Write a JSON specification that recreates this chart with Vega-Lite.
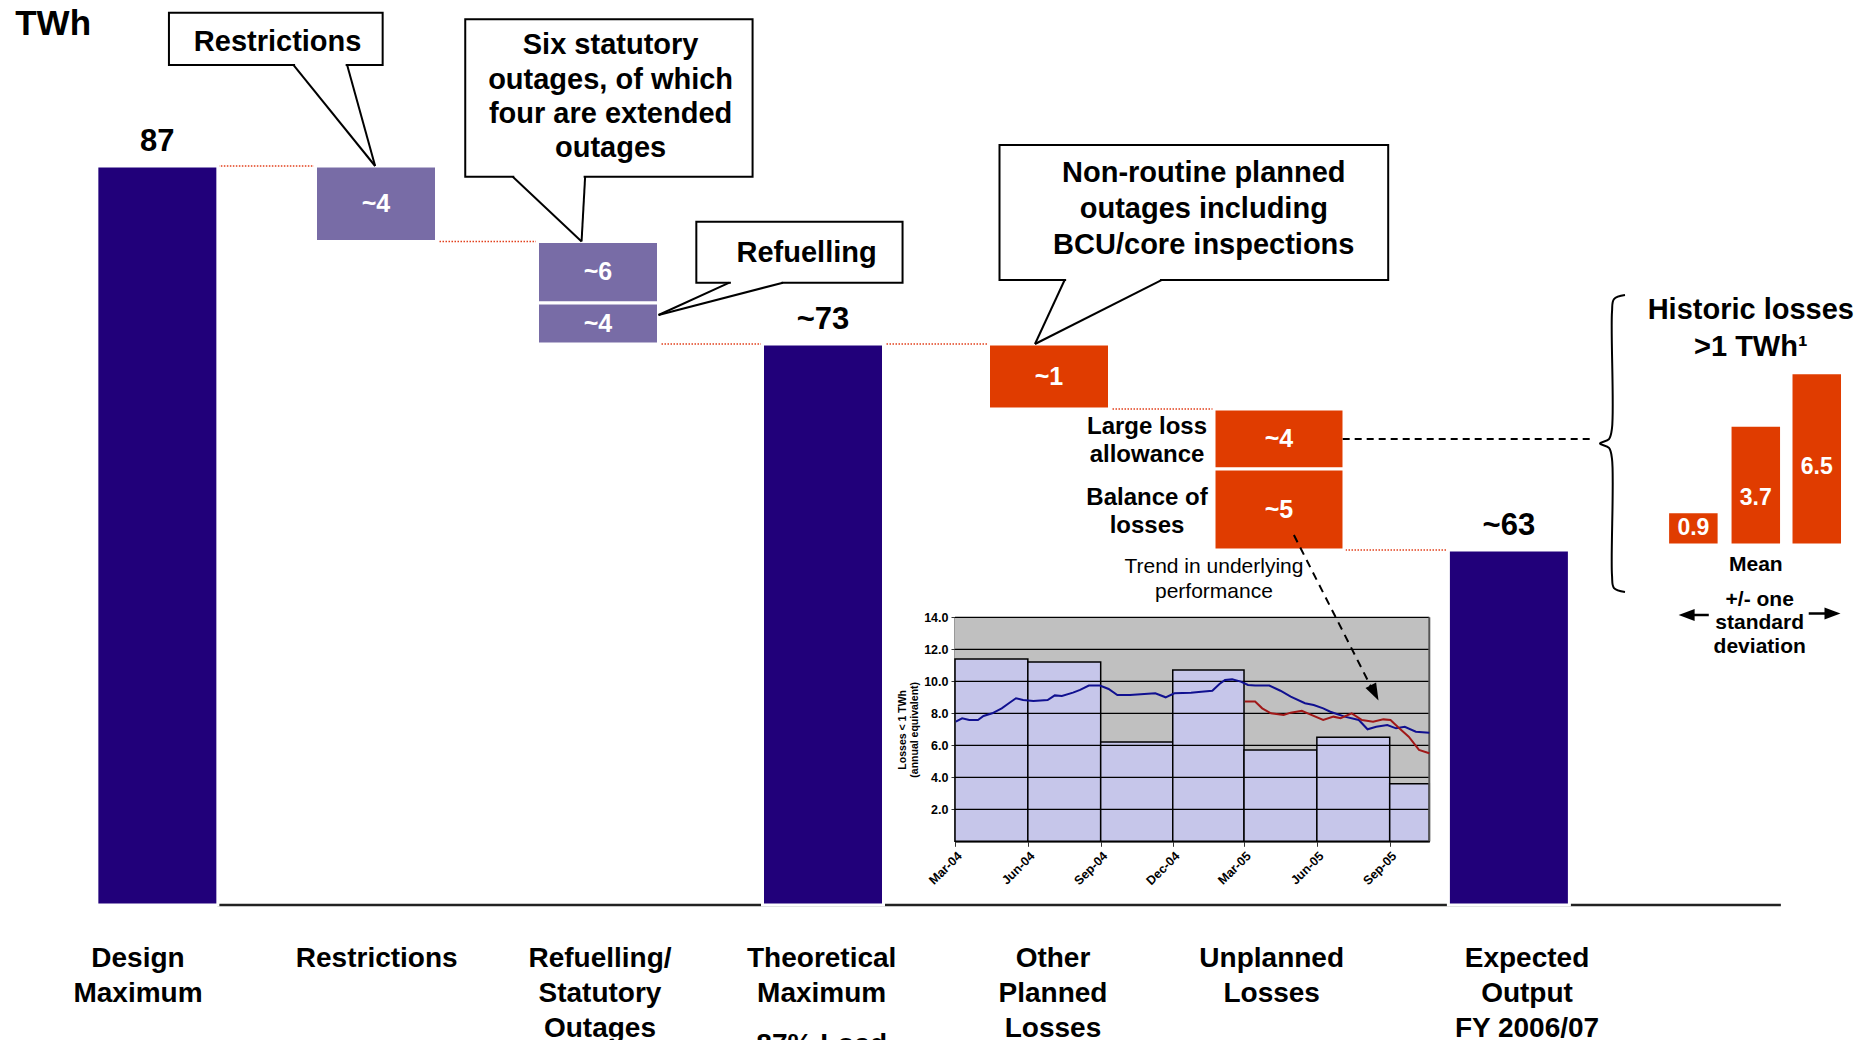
{
  "$schema": "https://vega.github.io/schema/vega-lite/v6.json",
  "width": 1874,
  "height": 1040,
  "autosize": {"type": "none"},
  "padding": 0,
  "background": "white",
  "config": {
    "view": {"stroke": null},
    "font": "Liberation Sans",
    "axis": {"labelFont": "Liberation Sans", "titleFont": "Liberation Sans", "labelColor": "black", "titleColor": "black", "grid": false, "labelFlush": false, "labelOverlap": false, "zindex": 1}
  },
  "datasets": {
    "one": [{}],
    "steps": [
      {"stage": "Design Maximum", "idx": 0, "start": 0, "end": 87, "kind": "total", "label": "87"},
      {"stage": "Restrictions", "idx": 1, "start": 87, "end": 83, "kind": "outage", "label": "~4"},
      {"stage": "Refuelling/Statutory Outages", "idx": 2, "start": 83, "end": 77, "kind": "outage", "label": "~6"},
      {"stage": "Refuelling/Statutory Outages", "idx": 2, "start": 77, "end": 73, "kind": "outage", "label": "~4"},
      {"stage": "Theoretical Maximum", "idx": 3, "start": 0, "end": 73, "kind": "total", "label": "~73"},
      {"stage": "Other Planned Losses", "idx": 4, "start": 73, "end": 72, "kind": "loss", "label": "~1"},
      {"stage": "Unplanned Losses", "idx": 5, "start": 72, "end": 68, "kind": "loss", "label": "~4", "note": "Large loss\nallowance"},
      {"stage": "Unplanned Losses", "idx": 5, "start": 68, "end": 63, "kind": "loss", "label": "~5", "note": "Balance of\nlosses"},
      {"stage": "Expected Output FY 2006/07", "idx": 6, "start": 0, "end": 63, "kind": "total", "label": "~63"}
    ],
    "links": [
      {"level": 87, "from": 0, "to": 1},
      {"level": 83, "from": 1, "to": 2},
      {"level": 73, "from": 2, "to": 3},
      {"level": 73, "from": 3, "to": 4},
      {"level": 72, "from": 4, "to": 5},
      {"level": 63, "from": 5, "to": 6}
    ],
    "stages": [
      {"idx": 0, "name": "Design\nMaximum"},
      {"idx": 1, "name": "Restrictions"},
      {"idx": 2, "name": "Refuelling/\nStatutory\nOutages"},
      {"idx": 3, "name": "Theoretical\nMaximum"},
      {"idx": 4, "name": "Other\nPlanned\nLosses"},
      {"idx": 5, "name": "Unplanned\nLosses"},
      {"idx": 6, "name": "Expected\nOutput\nFY 2006/07"}
    ],
    "quarters": [
      {"from": "2004-03-01", "to": "2004-06-01", "losses": 11.4},
      {"from": "2004-06-01", "to": "2004-09-01", "losses": 11.2},
      {"from": "2004-09-01", "to": "2004-12-01", "losses": 6.2},
      {"from": "2004-12-01", "to": "2005-03-01", "losses": 10.7},
      {"from": "2005-03-01", "to": "2005-06-01", "losses": 5.7},
      {"from": "2005-06-01", "to": "2005-09-01", "losses": 6.5},
      {"from": "2005-09-01", "to": "2005-10-21", "losses": 3.6}
    ],
    "gridlines": [{"v": 2}, {"v": 4}, {"v": 6}, {"v": 8}, {"v": 10}, {"v": 12}, {"v": 14}],
    "trend": [
      {"series": "rolling", "date": "2004-03-02", "value": 7.48},
      {"series": "rolling", "date": "2004-03-10", "value": 7.69},
      {"series": "rolling", "date": "2004-03-19", "value": 7.58},
      {"series": "rolling", "date": "2004-03-30", "value": 7.58},
      {"series": "rolling", "date": "2004-04-06", "value": 7.83},
      {"series": "rolling", "date": "2004-04-17", "value": 8.0},
      {"series": "rolling", "date": "2004-04-29", "value": 8.31},
      {"series": "rolling", "date": "2004-05-08", "value": 8.63},
      {"series": "rolling", "date": "2004-05-17", "value": 8.94},
      {"series": "rolling", "date": "2004-05-26", "value": 8.83},
      {"series": "rolling", "date": "2004-06-08", "value": 8.77},
      {"series": "rolling", "date": "2004-06-26", "value": 8.83},
      {"series": "rolling", "date": "2004-07-05", "value": 9.12},
      {"series": "rolling", "date": "2004-07-14", "value": 9.08},
      {"series": "rolling", "date": "2004-07-28", "value": 9.29},
      {"series": "rolling", "date": "2004-08-06", "value": 9.46},
      {"series": "rolling", "date": "2004-08-17", "value": 9.73},
      {"series": "rolling", "date": "2004-08-31", "value": 9.73},
      {"series": "rolling", "date": "2004-09-11", "value": 9.52},
      {"series": "rolling", "date": "2004-09-22", "value": 9.14},
      {"series": "rolling", "date": "2004-10-08", "value": 9.14},
      {"series": "rolling", "date": "2004-10-26", "value": 9.21},
      {"series": "rolling", "date": "2004-11-09", "value": 9.25},
      {"series": "rolling", "date": "2004-11-22", "value": 9.0},
      {"series": "rolling", "date": "2004-12-03", "value": 9.25},
      {"series": "rolling", "date": "2004-12-24", "value": 9.29},
      {"series": "rolling", "date": "2005-01-06", "value": 9.35},
      {"series": "rolling", "date": "2005-01-20", "value": 9.41},
      {"series": "rolling", "date": "2005-01-29", "value": 9.83},
      {"series": "rolling", "date": "2005-02-05", "value": 10.08},
      {"series": "rolling", "date": "2005-02-14", "value": 10.12},
      {"series": "rolling", "date": "2005-02-25", "value": 9.98},
      {"series": "rolling", "date": "2005-03-06", "value": 9.77},
      {"series": "rolling", "date": "2005-03-15", "value": 9.73},
      {"series": "rolling", "date": "2005-04-02", "value": 9.73},
      {"series": "rolling", "date": "2005-04-16", "value": 9.41},
      {"series": "rolling", "date": "2005-04-29", "value": 9.04},
      {"series": "rolling", "date": "2005-05-17", "value": 8.63},
      {"series": "rolling", "date": "2005-05-28", "value": 8.52},
      {"series": "rolling", "date": "2005-06-09", "value": 8.31},
      {"series": "rolling", "date": "2005-06-18", "value": 8.1},
      {"series": "rolling", "date": "2005-07-06", "value": 7.79},
      {"series": "rolling", "date": "2005-07-24", "value": 7.58},
      {"series": "rolling", "date": "2005-08-04", "value": 7.0},
      {"series": "rolling", "date": "2005-08-15", "value": 7.16},
      {"series": "rolling", "date": "2005-08-29", "value": 7.27},
      {"series": "rolling", "date": "2005-09-09", "value": 7.06},
      {"series": "rolling", "date": "2005-09-20", "value": 7.16},
      {"series": "rolling", "date": "2005-10-04", "value": 6.85},
      {"series": "rolling", "date": "2005-10-21", "value": 6.79},
      {"series": "revised", "date": "2005-03-02", "value": 8.73},
      {"series": "revised", "date": "2005-03-15", "value": 8.73},
      {"series": "revised", "date": "2005-03-24", "value": 8.31},
      {"series": "revised", "date": "2005-04-04", "value": 8.0},
      {"series": "revised", "date": "2005-04-20", "value": 7.89},
      {"series": "revised", "date": "2005-04-29", "value": 8.04},
      {"series": "revised", "date": "2005-05-13", "value": 8.16},
      {"series": "revised", "date": "2005-05-22", "value": 7.96},
      {"series": "revised", "date": "2005-06-09", "value": 7.58},
      {"series": "revised", "date": "2005-06-22", "value": 7.79},
      {"series": "revised", "date": "2005-07-01", "value": 7.69},
      {"series": "revised", "date": "2005-07-15", "value": 8.0},
      {"series": "revised", "date": "2005-07-28", "value": 7.58},
      {"series": "revised", "date": "2005-08-11", "value": 7.48},
      {"series": "revised", "date": "2005-08-24", "value": 7.62},
      {"series": "revised", "date": "2005-09-02", "value": 7.58},
      {"series": "revised", "date": "2005-09-11", "value": 7.16},
      {"series": "revised", "date": "2005-09-25", "value": 6.54},
      {"series": "revised", "date": "2005-10-08", "value": 5.71},
      {"series": "revised", "date": "2005-10-21", "value": 5.5}
    ],
    "historic": [
      {"stat": "Mean - 1 SD", "k": -1, "value": 0.9},
      {"stat": "Mean", "k": 0, "value": 3.7},
      {"stat": "Mean + 1 SD", "k": 1, "value": 6.5}
    ],
    "brace": [
      {"i": 0, "bx": 1, "by": 0},
      {"i": 1, "bx": 0.56, "by": 0.0135},
      {"i": 2, "bx": 0.48, "by": 0.057},
      {"i": 3, "bx": 0.48, "by": 0.448},
      {"i": 4, "bx": 0.36, "by": 0.485},
      {"i": 5, "bx": 0, "by": 0.5},
      {"i": 6, "bx": 0.36, "by": 0.515},
      {"i": 7, "bx": 0.48, "by": 0.552},
      {"i": 8, "bx": 0.48, "by": 0.943},
      {"i": 9, "bx": 0.56, "by": 0.987},
      {"i": 10, "bx": 1, "by": 1}
    ]
  },
  "resolve": {"scale": {"x": "independent", "y": "independent", "color": "independent"}},
  "layer": [
    {
      "layer": [
        {"data": {"name": "one"}, "mark": {"type": "rule", "color": "#222222", "strokeWidth": 2.5, "xOffset": 60},
         "encoding": {
           "x": {"datum": 0, "type": "quantitative", "axis": null, "scale": {"type": "linear", "domain": [0, 1, 2, 3, 4, 5, 6], "range": [152.5, 376, 598, 823, 1049, 1279, 1514], "nice": false, "zero": false}},
           "x2": {"datum": 7.183},
           "y": {"datum": 0, "type": "quantitative", "axis": null, "scale": {"type": "linear", "domain": [0, 63, 68, 72, 73, 77, 83, 87], "range": [905, 550, 469, 409, 344, 303, 241.5, 166], "nice": false, "zero": false}}}},
        {"data": {"name": "links"}, "mark": {"type": "rule", "color": "#e2401c", "strokeWidth": 1.6, "strokeDash": [1.5, 1.5], "xOffset": 60.5, "x2Offset": -60.5},
         "encoding": {"x": {"field": "from", "type": "quantitative", "axis": null}, "x2": {"field": "to"}, "y": {"field": "level", "type": "quantitative", "axis": null}}},
        {"data": {"name": "steps"}, "mark": {"type": "bar", "stroke": "white", "strokeWidth": 3},
         "encoding": {
           "x": {"field": "idx", "type": "quantitative", "axis": null},
           "y": {"field": "start", "type": "quantitative", "axis": null},
           "y2": {"field": "end"},
           "size": {"condition": {"test": "datum.idx === 5", "value": 130}, "value": 121},
           "color": {"field": "kind", "type": "nominal", "legend": null, "scale": {"domain": ["total", "outage", "loss"], "range": ["#21007a", "#786ca6", "#e03c00"]}}}},
        {"data": {"name": "steps"}, "transform": [{"filter": "datum.kind !== 'total'"}, {"calculate": "(datum.start + datum.end) / 2", "as": "mid"}],
         "mark": {"type": "text", "color": "white", "fontSize": 25, "fontWeight": "bold", "baseline": "middle", "align": "center"},
         "encoding": {"x": {"field": "idx", "type": "quantitative", "axis": null}, "y": {"field": "mid", "type": "quantitative", "axis": null}, "text": {"field": "label"}}},
        {"data": {"name": "steps"}, "transform": [{"filter": "datum.kind === 'total'"}],
         "mark": {"type": "text", "color": "black", "fontSize": 31, "fontWeight": "bold", "baseline": "alphabetic", "align": "center", "dy": -15},
         "encoding": {"x": {"field": "idx", "type": "quantitative", "axis": null}, "y": {"field": "end", "type": "quantitative", "axis": null}, "text": {"field": "label"}}},
        {"data": {"name": "steps"}, "transform": [{"filter": "isValid(datum.note)"}, {"calculate": "(datum.start + datum.end) / 2", "as": "mid"}],
         "mark": {"type": "text", "color": "black", "fontSize": 24, "fontWeight": "bold", "lineBreak": "\n", "lineHeight": 28, "baseline": "middle", "align": "center", "dx": -132, "dy": -12},
         "encoding": {"x": {"field": "idx", "type": "quantitative", "axis": null}, "y": {"field": "mid", "type": "quantitative", "axis": null}, "text": {"field": "note"}}},
        {"data": {"name": "one"},
         "mark": {"type": "text", "color": "black", "fontSize": 35, "fontWeight": "bold", "baseline": "alphabetic", "align": "left"},
         "encoding": {"x": {"datum": -0.65, "type": "quantitative", "axis": null}, "y": {"datum": 93.94, "type": "quantitative", "axis": null}, "text": {"value": "TWh"}}},
        {"data": {"name": "one"}, "mark": {"type": "rule", "color": "black", "strokeWidth": 2, "strokeDash": [7, 5]},
         "encoding": {"x": {"datum": 5.277, "type": "quantitative", "axis": null}, "x2": {"datum": 6.366}, "y": {"datum": 70, "type": "quantitative", "axis": null}}},

        {"data": {"name": "one"}, "mark": {"type": "rect", "fill": "white", "stroke": "black", "strokeWidth": 2},
         "encoding": {"x": {"datum": 0.053, "type": "quantitative", "axis": null}, "x2": {"datum": 1.03}, "y": {"datum": 95.12, "type": "quantitative", "axis": null}, "y2": {"datum": 92.35}}},
        {"data": {"name": "one"}, "mark": {"type": "rule", "color": "white", "strokeWidth": 3.5, "xOffset": 1.5, "x2Offset": -1.5},
         "encoding": {"x": {"datum": 0.623, "type": "quantitative", "axis": null}, "x2": {"datum": 0.868}, "y": {"datum": 92.35, "type": "quantitative", "axis": null}}},
        {"data": {"name": "one"}, "mark": {"type": "rule", "color": "black", "strokeWidth": 2},
         "encoding": {"x": {"datum": 0.623, "type": "quantitative", "axis": null}, "x2": {"datum": 0.996}, "y": {"datum": 92.35, "type": "quantitative", "axis": null}, "y2": {"datum": 87}}},
        {"data": {"name": "one"}, "mark": {"type": "rule", "color": "black", "strokeWidth": 2},
         "encoding": {"x": {"datum": 0.868, "type": "quantitative", "axis": null}, "x2": {"datum": 0.996}, "y": {"datum": 92.35, "type": "quantitative", "axis": null}, "y2": {"datum": 87}}},
        {"data": {"name": "one"}, "mark": {"type": "text", "color": "black", "fontSize": 29, "fontWeight": "bold", "baseline": "middle", "align": "center"},
         "encoding": {"x": {"datum": 0.55, "type": "quantitative", "axis": null}, "y": {"datum": 93.59, "type": "quantitative", "axis": null}, "text": {"value": "Restrictions"}}},

        {"data": {"name": "one"}, "mark": {"type": "rect", "fill": "white", "stroke": "black", "strokeWidth": 2},
         "encoding": {"x": {"datum": 1.402, "type": "quantitative", "axis": null}, "x2": {"datum": 2.687}, "y": {"datum": 94.77, "type": "quantitative", "axis": null}, "y2": {"datum": 86.43}}},
        {"data": {"name": "one"}, "mark": {"type": "rule", "color": "white", "strokeWidth": 3.5, "xOffset": 1.5, "x2Offset": -1.5},
         "encoding": {"x": {"datum": 1.616, "type": "quantitative", "axis": null}, "x2": {"datum": 1.942}, "y": {"datum": 86.43, "type": "quantitative", "axis": null}}},
        {"data": {"name": "one"}, "mark": {"type": "rule", "color": "black", "strokeWidth": 2},
         "encoding": {"x": {"datum": 1.616, "type": "quantitative", "axis": null}, "x2": {"datum": 1.926}, "y": {"datum": 86.43, "type": "quantitative", "axis": null}, "y2": {"datum": 83}}},
        {"data": {"name": "one"}, "mark": {"type": "rule", "color": "black", "strokeWidth": 2},
         "encoding": {"x": {"datum": 1.942, "type": "quantitative", "axis": null}, "x2": {"datum": 1.926}, "y": {"datum": 86.43, "type": "quantitative", "axis": null}, "y2": {"datum": 83}}},
        {"data": {"name": "one"}, "mark": {"type": "text", "color": "black", "fontSize": 29, "fontWeight": "bold", "baseline": "middle", "align": "center", "lineHeight": 34.4, "dy": -51.6},
         "encoding": {"x": {"datum": 2.056, "type": "quantitative", "axis": null}, "y": {"datum": 90.67, "type": "quantitative", "axis": null}, "text": {"value": ["Six statutory", "outages, of which", "four are extended", "outages"]}}},

        {"data": {"name": "one"}, "mark": {"type": "rect", "fill": "white", "stroke": "black", "strokeWidth": 2},
         "encoding": {"x": {"datum": 2.437, "type": "quantitative", "axis": null}, "x2": {"datum": 3.352}, "y": {"datum": 84.05, "type": "quantitative", "axis": null}, "y2": {"datum": 78.98}}},
        {"data": {"name": "one"}, "mark": {"type": "rule", "color": "white", "strokeWidth": 3.5, "xOffset": 1.5, "x2Offset": -1.5},
         "encoding": {"x": {"datum": 2.584, "type": "quantitative", "axis": null}, "x2": {"datum": 2.822}, "y": {"datum": 78.98, "type": "quantitative", "axis": null}}},
        {"data": {"name": "one"}, "mark": {"type": "rule", "color": "black", "strokeWidth": 2},
         "encoding": {"x": {"datum": 2.584, "type": "quantitative", "axis": null}, "x2": {"datum": 2.269}, "y": {"datum": 78.98, "type": "quantitative", "axis": null}, "y2": {"datum": 75.83}}},
        {"data": {"name": "one"}, "mark": {"type": "rule", "color": "black", "strokeWidth": 2},
         "encoding": {"x": {"datum": 2.822, "type": "quantitative", "axis": null}, "x2": {"datum": 2.269}, "y": {"datum": 78.98, "type": "quantitative", "axis": null}, "y2": {"datum": 75.83}}},
        {"data": {"name": "one"}, "mark": {"type": "text", "color": "black", "fontSize": 29, "fontWeight": "bold", "baseline": "middle", "align": "center"},
         "encoding": {"x": {"datum": 2.927, "type": "quantitative", "axis": null}, "y": {"datum": 81.84, "type": "quantitative", "axis": null}, "text": {"value": "Refuelling"}}},

        {"data": {"name": "one"}, "mark": {"type": "rect", "fill": "white", "stroke": "black", "strokeWidth": 2},
         "encoding": {"x": {"datum": 3.781, "type": "quantitative", "axis": null}, "x2": {"datum": 5.475}, "y": {"datum": 88.11, "type": "quantitative", "axis": null}, "y2": {"datum": 79.24}}},
        {"data": {"name": "one"}, "mark": {"type": "rule", "color": "white", "strokeWidth": 3.5, "xOffset": 1.5, "x2Offset": -1.5},
         "encoding": {"x": {"datum": 4.068, "type": "quantitative", "axis": null}, "x2": {"datum": 4.489}, "y": {"datum": 79.24, "type": "quantitative", "axis": null}}},
        {"data": {"name": "one"}, "mark": {"type": "rule", "color": "black", "strokeWidth": 2},
         "encoding": {"x": {"datum": 4.068, "type": "quantitative", "axis": null}, "x2": {"datum": 3.938}, "y": {"datum": 79.24, "type": "quantitative", "axis": null}, "y2": {"datum": 73}}},
        {"data": {"name": "one"}, "mark": {"type": "rule", "color": "black", "strokeWidth": 2},
         "encoding": {"x": {"datum": 4.489, "type": "quantitative", "axis": null}, "x2": {"datum": 3.938}, "y": {"datum": 79.24, "type": "quantitative", "axis": null}, "y2": {"datum": 73}}},
        {"data": {"name": "one"}, "mark": {"type": "text", "color": "black", "fontSize": 29, "fontWeight": "bold", "baseline": "middle", "align": "center", "lineHeight": 36, "dy": -36},
         "encoding": {"x": {"datum": 4.673, "type": "quantitative", "axis": null}, "y": {"datum": 84.71, "type": "quantitative", "axis": null}, "text": {"value": ["Non-routine planned", "outages including", "BCU/core inspections"]}}}
      ]
    },
    {
      "layer": [
        {"data": {"name": "stages"},
         "mark": {"type": "text", "color": "black", "fontSize": 28, "fontWeight": "bold", "lineBreak": "\n", "lineHeight": 35, "baseline": "top", "align": "center", "dy": 40},
         "encoding": {
           "x": {"field": "idx", "type": "quantitative", "axis": null, "scale": {"type": "linear", "domain": [0, 1, 2, 3, 4, 5, 6], "range": [138, 376.7, 600, 821.7, 1053, 1271.7, 1527], "nice": false, "zero": false}},
           "y": {"datum": 0, "type": "quantitative", "axis": null, "scale": {"type": "linear", "domain": [0, 87], "range": [905, 166], "nice": false, "zero": false}},
           "text": {"field": "name"}}},
        {"data": {"name": "one"},
         "mark": {"type": "text", "color": "black", "fontSize": 28, "fontWeight": "bold", "baseline": "top", "align": "center", "dy": 126},
         "encoding": {"x": {"datum": 3, "type": "quantitative", "axis": null}, "y": {"datum": 0, "type": "quantitative", "axis": null}, "text": {"value": "87% Load"}}}
      ]
    },
    {
      "layer": [
        {"data": {"name": "one"}, "mark": {"type": "rect", "fill": "#c0c0c0"},
         "encoding": {
           "x": {"datum": {"year": 2004, "month": "mar", "date": 1, "utc": true}, "type": "temporal",
                 "scale": {"type": "utc", "domain": [{"year": 2004, "month": "mar", "date": 1, "utc": true}, {"year": 2005, "month": "oct", "date": 21, "utc": true}], "range": [955, 1429.3], "nice": false},
                 "axis": {"orient": "bottom", "offset": -198.7, "title": null, "labelExpr": "utcFormat(datum.value, '%b-%y')", "labelAngle": -45, "labelFontSize": 12.5, "labelFontWeight": "bold", "labelPadding": 3,
                          "domainColor": "#333333", "domainWidth": 2, "tickColor": "#333333", "tickSize": 5,
                          "values": [{"year": 2004, "month": "mar", "date": 1, "utc": true}, {"year": 2004, "month": "jun", "date": 1, "utc": true}, {"year": 2004, "month": "sep", "date": 1, "utc": true}, {"year": 2004, "month": "dec", "date": 1, "utc": true}, {"year": 2005, "month": "mar", "date": 1, "utc": true}, {"year": 2005, "month": "jun", "date": 1, "utc": true}, {"year": 2005, "month": "sep", "date": 1, "utc": true}]}},
           "x2": {"datum": {"year": 2005, "month": "oct", "date": 21, "utc": true}},
           "y": {"datum": 0, "type": "quantitative",
                 "scale": {"type": "linear", "domain": [0, 14], "range": [841.3, 617.3], "nice": false, "zero": false},
                 "axis": {"orient": "left", "offset": -955, "values": [2, 4, 6, 8, 10, 12, 14], "format": ".1f", "labelFontSize": 12.5, "labelFontWeight": "bold", "labelPadding": 3, "tickSize": 4,
                          "domainColor": "#333333", "domainWidth": 2, "tickColor": "#333333",
                          "title": ["Losses < 1 TWh", "(annual equivalent)"], "titleFontSize": 10.5, "titleFontWeight": "bold", "titlePadding": 4, "titleLineHeight": 12}},
           "y2": {"datum": 14}}},
        {"data": {"name": "quarters"}, "mark": {"type": "rect", "fill": "#c6c6ea", "stroke": "black", "strokeWidth": 1.5},
         "encoding": {"x": {"field": "from", "type": "temporal"}, "x2": {"field": "to"}, "y": {"field": "losses", "type": "quantitative"}, "y2": {"datum": 0}}},
        {"data": {"name": "gridlines"}, "mark": {"type": "rule", "color": "black", "strokeWidth": 1.2},
         "encoding": {"y": {"field": "v", "type": "quantitative"}, "x": {"datum": {"year": 2004, "month": "mar", "date": 1, "utc": true}, "type": "temporal"}, "x2": {"datum": {"year": 2005, "month": "oct", "date": 21, "utc": true}}}},
        {"data": {"name": "one"}, "mark": {"type": "rule", "color": "#555555", "strokeWidth": 2},
         "encoding": {"x": {"datum": {"year": 2005, "month": "oct", "date": 21, "utc": true}, "type": "temporal"}, "y": {"datum": 0, "type": "quantitative"}, "y2": {"datum": 14}}},
        {"data": {"name": "trend"}, "mark": {"type": "line", "strokeWidth": 2},
         "encoding": {"x": {"field": "date", "type": "temporal"}, "y": {"field": "value", "type": "quantitative"},
                      "color": {"field": "series", "type": "nominal", "legend": null, "scale": {"domain": ["rolling", "revised"], "range": ["#101090", "#a01818"]}}}},
        {"data": {"name": "one"}, "mark": {"type": "text", "color": "black", "fontSize": 21, "lineHeight": 25, "baseline": "middle", "align": "center", "dy": -50},
         "encoding": {"x": {"datum": {"year": 2005, "month": "jan", "date": 22, "utc": true}, "type": "temporal"}, "y": {"datum": 14, "type": "quantitative"}, "text": {"value": ["Trend in underlying", "performance"]}}},
        {"data": {"name": "one"}, "mark": {"type": "rule", "color": "black", "strokeWidth": 2, "strokeDash": [8, 6]},
         "encoding": {"x": {"datum": {"year": 2005, "month": "may", "date": 3, "utc": true}, "type": "temporal"}, "x2": {"datum": {"year": 2005, "month": "aug", "date": 8, "utc": true}},
                      "y": {"datum": 19.14, "type": "quantitative"}, "y2": {"datum": 9.7}}},
        {"data": {"name": "one"}, "mark": {"type": "point", "shape": "M0,1L-0.7,-1L0.7,-1Z", "filled": true, "color": "black", "opacity": 1, "size": 289, "angle": -27},
         "encoding": {"x": {"datum": {"year": 2005, "month": "aug", "date": 13, "utc": true}, "type": "temporal"}, "y": {"datum": 9.28, "type": "quantitative"}}}
      ]
    },
    {
      "layer": [
        {"data": {"name": "historic"}, "mark": {"type": "bar", "color": "#e03c00", "size": 48.5},
         "encoding": {
           "x": {"field": "k", "type": "quantitative", "axis": null, "scale": {"type": "linear", "domain": [-1, 0, 1], "range": [1688.3, 1755.8, 1821.7], "nice": false, "zero": false}},
           "y": {"field": "value", "type": "quantitative", "axis": null, "scale": {"type": "linear", "domain": [0, 0.9, 1.85, 3.25, 3.7, 6.5], "range": [543.5, 513.3, 498.3, 466.7, 426.7, 374.3], "nice": false, "zero": false}},
           "y2": {"datum": 0}}},
        {"data": {"name": "historic"}, "transform": [{"calculate": "datum.value / 2", "as": "mid"}],
         "mark": {"type": "text", "color": "white", "fontSize": 23, "fontWeight": "bold", "baseline": "middle", "align": "center"},
         "encoding": {"x": {"field": "k", "type": "quantitative", "axis": null}, "y": {"field": "mid", "type": "quantitative", "axis": null}, "text": {"field": "value", "format": ".1f"}}},
        {"data": {"name": "one"}, "mark": {"type": "text", "color": "black", "fontSize": 29, "fontWeight": "bold", "baseline": "middle", "align": "center", "lineHeight": 36.7, "dy": -64.4},
         "encoding": {"x": {"datum": -0.08, "type": "quantitative", "axis": null}, "y": {"datum": 6.5, "type": "quantitative", "axis": null}, "text": {"value": ["Historic losses", ">1 TWh\u00b9"]}}},
        {"data": {"name": "one"}, "mark": {"type": "text", "color": "black", "fontSize": 21, "fontWeight": "bold", "baseline": "middle", "align": "center", "dy": 21.5},
         "encoding": {"x": {"datum": 0, "type": "quantitative", "axis": null}, "y": {"datum": 0, "type": "quantitative", "axis": null}, "text": {"value": "Mean"}}},
        {"data": {"name": "one"}, "mark": {"type": "text", "color": "black", "fontSize": 21, "fontWeight": "bold", "baseline": "middle", "align": "center", "lineHeight": 23.3, "dy": 56.5},
         "encoding": {"x": {"datum": 0.064, "type": "quantitative", "axis": null}, "y": {"datum": 0, "type": "quantitative", "axis": null}, "text": {"value": ["+/- one", "standard", "deviation"]}}},
        {"data": {"name": "one"}, "mark": {"type": "rule", "color": "black", "strokeWidth": 2.5, "yOffset": 71.5},
         "encoding": {"x": {"datum": -0.753, "type": "quantitative", "axis": null}, "x2": {"datum": -1.108}, "y": {"datum": 0, "type": "quantitative", "axis": null}}},
        {"data": {"name": "one"}, "mark": {"type": "point", "shape": "M-1,0L1,-0.75L1,0.75Z", "filled": true, "color": "black", "opacity": 1, "size": 256, "yOffset": 71.5},
         "encoding": {"x": {"datum": -1.108, "type": "quantitative", "axis": null}, "y": {"datum": 0, "type": "quantitative", "axis": null}}},
        {"data": {"name": "one"}, "mark": {"type": "rule", "color": "black", "strokeWidth": 2.5, "yOffset": 70},
         "encoding": {"x": {"datum": 0.868, "type": "quantitative", "axis": null}, "x2": {"datum": 1.258}, "y": {"datum": 0, "type": "quantitative", "axis": null}}},
        {"data": {"name": "one"}, "mark": {"type": "point", "shape": "M1,0L-1,-0.75L-1,0.75Z", "filled": true, "color": "black", "opacity": 1, "size": 256, "yOffset": 70},
         "encoding": {"x": {"datum": 1.258, "type": "quantitative", "axis": null}, "y": {"datum": 0, "type": "quantitative", "axis": null}}}
      ]
    },
    {
      "layer": [
        {"data": {"name": "brace"}, "mark": {"type": "line", "color": "black", "strokeWidth": 2, "interpolate": "catmull-rom"},
         "encoding": {
           "x": {"field": "bx", "type": "quantitative", "axis": null, "scale": {"type": "linear", "domain": [0, 1], "range": [1600, 1625], "nice": false, "zero": false}},
           "y": {"field": "by", "type": "quantitative", "axis": null, "scale": {"type": "linear", "domain": [0, 1], "range": [295, 592], "nice": false, "zero": false}},
           "order": {"field": "i", "type": "quantitative"}}}
      ]
    }
  ]
}
